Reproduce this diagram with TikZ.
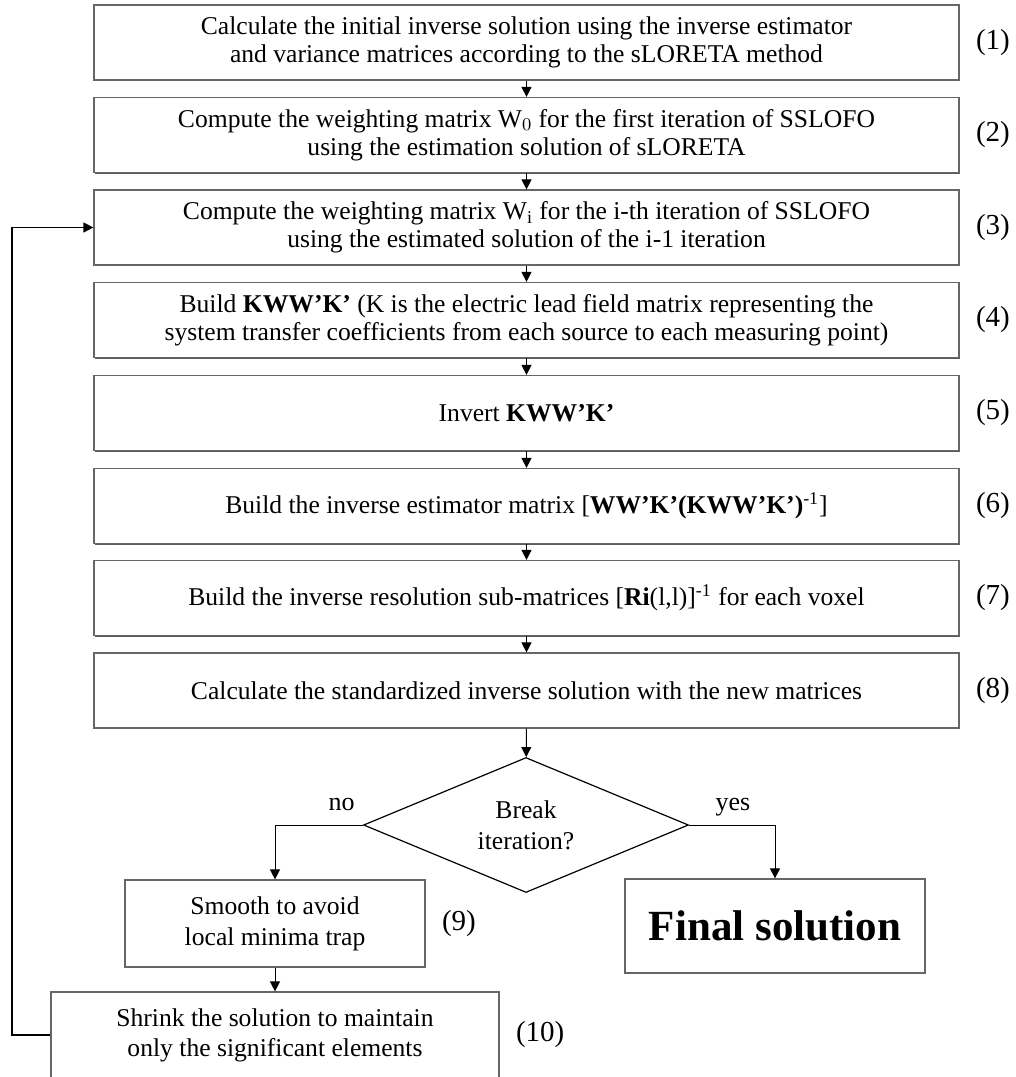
\documentclass[tikz,border=0pt]{standalone}
\usepackage{fontspec}
\setmainfont{Liberation Serif}
\usetikzlibrary{shapes.geometric, positioning, arrows.meta, shadows}
\tikzset{>={Triangle[length=5pt,width=5pt]}}
\tikzset{
  box/.style={draw=black!60, line width=0.6pt, fill=white, align=center, inner sep=0pt,
    font=\fontsize{12.8}{14}\selectfont,
    drop shadow={shadow xshift=0.5pt, shadow yshift=-0.6pt, fill=black!80, opacity=0.8}},
  mainbox/.style={box, minimum width=432.5pt, minimum height=37.5pt},
  num/.style={inner sep=0pt, font=\fontsize{14.5}{16}\selectfont},
  lbl/.style={inner sep=0pt, font=\fontsize{13}{15}\selectfont}
}

\begin{document}
\begin{tikzpicture}[x=0.5pt, y=-0.5pt]
    \useasboundingbox (0,0) rectangle (1016,1077);

    % main chain of steps
    \node[mainbox] (b1) at (526.5,42.5) {Calculate the initial inverse solution using the inverse estimator\\and variance matrices according to the sLORETA method};
    \node[mainbox] (b2) at (526.5,135) {Compute the weighting matrix W$_0$ for the first iteration of SSLOFO\\using the estimation solution of sLORETA};
    \node[mainbox] (b3) at (526.5,227.5) {Compute the weighting matrix W$_{\mathrm{i}}$ for the i-th iteration of SSLOFO\\using the estimated solution of the i-1 iteration};
    \node[mainbox] (b4) at (526.5,320) {Build \textbf{KWW’K’} (K is the electric lead field matrix representing the\\system transfer coefficients from each source to each measuring point)};
    \node[mainbox] (b5) at (526.5,413) {Invert \textbf{KWW’K’}};
    \node[mainbox] (b6) at (526.5,506) {Build the inverse estimator matrix [\textbf{WW’K’(KWW’K’)}\textsuperscript{-1}]};
    \node[mainbox] (b7) at (526.5,598) {Build the inverse resolution sub-matrices [\textbf{Ri}(l,l)]\textsuperscript{-1} for each voxel};
    \node[mainbox] (b8) at (526.5,690.5) {Calculate the standardized inverse solution with the new matrices};

    % decision
    \node[draw, diamond, aspect=2.4, line width=0.6pt, inner sep=0pt, minimum width=162.5pt, minimum height=67.5pt,
      align=center, font=\fontsize{12.8}{15.5}\selectfont] (dec) at (526,825) {Break\\iteration?};
    \node[lbl, anchor=base east, xshift=-4pt, yshift=7.5pt] (no) at (dec.west) {no};
    \node[lbl, anchor=base west, xshift=13pt, yshift=7.5pt] (yes) at (dec.east) {yes};

    % branches
    \node[box, minimum width=150pt, minimum height=43.5pt, font=\fontsize{12.8}{15.5}\selectfont] (b9) at (275,923.5) {Smooth to avoid\\local minima trap};
    \node[box, minimum width=224pt, minimum height=43pt, font=\fontsize{12.8}{15}\selectfont] (b10) at (275,1035) {Shrink the solution to maintain\\only the significant elements};
    \node[box, minimum width=150pt, minimum height=47pt, font=\fontsize{21.5}{24}\selectfont\bfseries] (fin) at (775,926) {Final solution};

    % step numbers
    \foreach \i in {1,...,10}
        \node[num, right=8pt of b\i] (n\i) {(\i)};

    % arrows
    \foreach \a/\b in {b1/b2, b2/b3, b3/b4, b4/b5, b5/b6, b6/b7, b7/b8, b8/dec, b9/b10}
        \draw[->, line width=0.5pt] (\a) -- (\b);
    \draw[->, line width=0.5pt] (dec.west) -| (b9);
    \draw[->, line width=0.5pt] (dec.east) -| (fin);
    \coordinate (back) at (12,1035);
    \draw[->, line width=0.6pt] (b10.west) -- (back) |- (b3.west);
\end{tikzpicture}
\end{document}
